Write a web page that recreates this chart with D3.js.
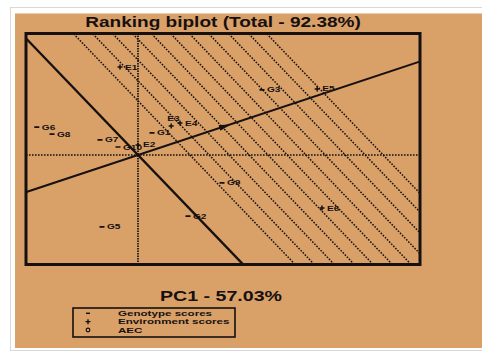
<!DOCTYPE html>
<html><head><meta charset="utf-8">
<script src="https://cdn.jsdelivr.net/npm/d3@7"></script>
<style>html,body{margin:0;padding:0;background:#fff;} svg{display:block;font-family:"Liberation Sans",Arial,sans-serif;}</style>
</head><body><svg id="c" width="482" height="351"></svg>
<script>
// ---- data ----
const genotypes = ["G6","G8","G7","G10","G1","G3","G9","G2","G5"];
const genoPC1 = [-2.53,-2.15,-0.95,-0.50,0.35,3.10,2.10,1.25,-0.90];
const genoPC2 = [1.19,0.89,0.64,0.34,0.94,2.77,-1.19,-2.60,-3.06];
const environments = ["E1","E2","E3","E4","E5","E6"];
const envPC1 = [-0.45,0.00,0.83,1.05,4.48,4.60];
const envPC2 = [3.74,0.43,1.23,1.36,2.81,-2.26];
const aecPoint = [2.18,1.23];
const rankLinePC1 = [1.30,1.78,2.28,2.78,3.25,3.73,4.20,4.68,5.18,5.68,6.13];
const pc1Domain = [-2.8,7.05];
const pc2Domain = [-4.66,5.17];
const titleText = "Ranking biplot (Total - 92.38%)";
const xLabel = "PC1 - 57.03%";
const legendItems = ["Genotype scores","Environment scores","AEC"];
const legendSymbols = ["geno","env","aec"];

// ---- drawing ----
const svg = d3.select("#c");
const ink = "#161110";
const box = {l:26, r:420, t:33.5, b:264.5};
const x = d3.scaleLinear().domain(pc1Domain).range([box.l, box.r]);
const y = d3.scaleLinear().domain(pc2Domain).range([box.b, box.t]);

svg.append("rect").attr("x",10.5).attr("y",7.5).attr("width",480).attr("height",343)
  .attr("fill","#fff").attr("stroke","#d8d8d8");
svg.append("rect").attr("x",15).attr("y",13.5).attr("width",467).attr("height",334.5)
  .attr("fill","#D9A068");

svg.append("defs").append("clipPath").attr("id","pc").append("rect")
  .attr("x",box.l).attr("y",box.t).attr("width",box.r-box.l).attr("height",box.b-box.t);
const plot = svg.append("g").attr("clip-path","url(#pc)");

const perp = [-aecPoint[1], aecPoint[0]];
const K = 20;
function lineThrough(p, d) {
  return [[x(p[0]-K*d[0]), y(p[1]-K*d[1])],[x(p[0]+K*d[0]), y(p[1]+K*d[1])]];
}
const lg = d3.line();

// dotted ranking lines perpendicular to the AEC
plot.selectAll("path.rank").data(rankLinePC1).join("path").attr("class","rank")
  .attr("d", v => lg(lineThrough([v,0], perp)))
  .attr("stroke",ink).attr("stroke-width",1.5).attr("stroke-dasharray","1.6,1.4").attr("fill","none");

// axes (dotted)
plot.append("line").attr("x1",x(pc1Domain[0])).attr("x2",x(pc1Domain[1])).attr("y1",y(0)).attr("y2",y(0))
  .attr("stroke",ink).attr("stroke-width",1.4).attr("stroke-dasharray","1.6,1.4");
plot.append("line").attr("x1",x(0)).attr("x2",x(0)).attr("y1",y(pc2Domain[0])).attr("y2",y(pc2Domain[1]))
  .attr("stroke",ink).attr("stroke-width",1.7).attr("stroke-dasharray","1.5,1");

// AEC abscissa and ordinate
plot.append("path").attr("d", lg(lineThrough([0,0], aecPoint)))
  .attr("stroke",ink).attr("stroke-width",2).attr("fill","none");
plot.append("path").attr("d", lg(lineThrough([0,0], perp)))
  .attr("stroke",ink).attr("stroke-width",2.4).attr("fill","none");

// AEC arrow head
{
  const px = x(aecPoint[0]), py = y(aecPoint[1]);
  let dx = px - x(0), dy = py - y(0); const L = Math.hypot(dx,dy); dx/=L; dy/=L;
  const nx = -dy, ny = dx;
  const tip = [px+6*dx, py+6*dy], b1 = [px-6*dx+3*nx, py-6*dy+3*ny], b2 = [px-6*dx-3*nx, py-6*dy-3*ny];
  plot.append("path").attr("d", "M"+tip+"L"+b1+"L"+b2+"Z").attr("fill",ink);
}

function stext(g, tx, ty, str, size, sx, anchor, weight) {
  return g.append("text").attr("transform",`translate(${tx},${ty}) scale(${sx},1)`)
    .attr("text-anchor",anchor).style("font-size",size+"px").style("font-weight",weight)
    .attr("fill",ink).text(str);
}

// genotype scores
genotypes.forEach((g,i) => {
  const px = x(genoPC1[i]), py = y(genoPC2[i]);
  plot.append("line").attr("x1",px-2.5).attr("x2",px+2.5).attr("y1",py).attr("y2",py)
    .attr("stroke",ink).attr("stroke-width",1.7);
  stext(plot, px+5, py+2.5, g, 7.5, 1.35, "start", "bold");
});
// environment scores (label offsets only to avoid the crowded pair)
const envLabelShift = {E3:[-4,-5]};
environments.forEach((e,i) => {
  const px = x(envPC1[i]), py = y(envPC2[i]);
  plot.append("path").attr("d",`M${px-2.5},${py}H${px+2.5}M${px},${py-2.5}V${py+2.5}`)
    .attr("stroke",ink).attr("stroke-width",1.5);
  const sh = envLabelShift[e] || [5,2.5];
  stext(plot, px+sh[0], py+sh[1], e, 7.5, 1.35, "start", "bold");
});

// plot border
svg.append("rect").attr("x",box.l).attr("y",box.t).attr("width",box.r-box.l).attr("height",box.b-box.t)
  .attr("fill","none").attr("stroke",ink).attr("stroke-width",3);

// title & axis label
stext(svg, (box.l+box.r)/2, 27, titleText, 14, 1.36, "middle", "bold");
stext(svg, 221, 301, xLabel, 14, 1.4, "middle", "bold");

// legend
const leg = svg.append("g");
leg.append("rect").attr("x",73).attr("y",308).attr("width",162).attr("height",29)
  .attr("fill","none").attr("stroke",ink).attr("stroke-width",1.6);
legendItems.forEach((t,i) => {
  const cy = 313.3 + i*8.35;
  const s = legendSymbols[i];
  if (s === "geno") leg.append("line").attr("x1",86).attr("x2",90).attr("y1",cy).attr("y2",cy).attr("stroke",ink).attr("stroke-width",1.5);
  else if (s === "env") leg.append("path").attr("d",`M85.5,${cy}H90.5M88,${cy-2.5}V${cy+2.5}`).attr("stroke",ink).attr("stroke-width",1.4);
  else leg.append("circle").attr("cx",88).attr("cy",cy).attr("r",1.8).attr("fill","none").attr("stroke",ink).attr("stroke-width",1.2);
  stext(leg, 118, cy+2.8, t, 8, 1.45, "start", "bold");
});
</script></body></html>
